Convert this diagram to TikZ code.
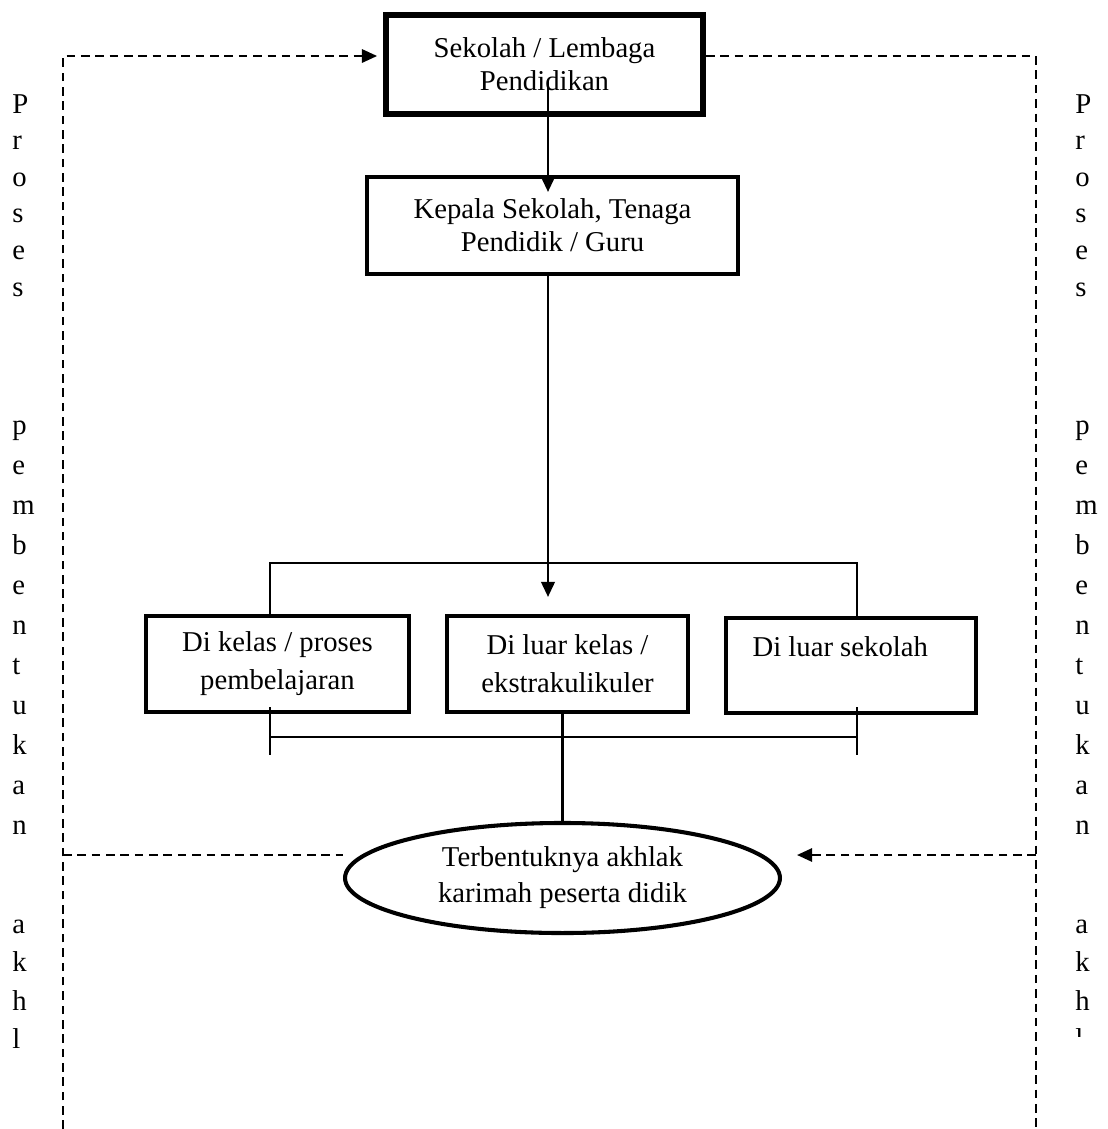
\documentclass[tikz,border=0pt]{standalone}
\usepackage{fontspec}
\setmainfont{Liberation Serif}
\usetikzlibrary{arrows.meta,shapes.geometric}

\begin{document}
\begin{tikzpicture}
[
x=0.418pt, y=-0.418pt,
box0/.style={rectangle, draw, line width=2.5pt, align=center, inner sep=0pt, font=\fontsize{12}{13.8}\selectfont},
box1/.style={rectangle, draw, line width=1.7pt, align=center, inner sep=0pt, font=\fontsize{12}{13.8}\selectfont},
box2/.style={rectangle, draw, line width=1.7pt, align=center, inner sep=0pt, minimum height=40pt, font=\fontsize{12}{15.9}\selectfont},
oval/.style={ellipse, draw, line width=1.7pt, align=center, inner sep=0pt, minimum width=181.8pt, minimum height=46pt, font=\fontsize{12}{15}\selectfont},
sidechar/.style={anchor=base west, inner sep=0pt, font=\fontsize{12}{14}\selectfont},
dashline/.style={line width=0.8pt, dash pattern=on 3.6pt off 2.4pt},
arrowline/.style={line width=1.1pt},
bracket/.style={line width=0.6pt},
headtip/.style={-{Triangle[length=6.3pt,width=5.6pt]}}
]
\useasboundingbox (0,0) rectangle (1107,1129);

\node[box0, minimum width=132.5pt, minimum height=41.4pt] (sekolah) at (544.5,64.5) {Sekolah / Lembaga\\Pendidikan};
\node[box1, minimum width=155pt, minimum height=40.5pt] (kepala) at (552.5,225.5) {Kepala Sekolah, Tenaga\\Pendidik / Guru};
\node[box2, minimum width=110pt] (kelas) at (277.5,664) {Di kelas / proses\\pembelajaran};
\node[box2, minimum width=100.7pt] (luar) at (567.5,664) {Di luar kelas /\\ekstrakulikuler};
\node[box2, minimum width=104.5pt] (sekolahluar) at (851,665.5) {Di luar sekolah\hspace*{9pt}\\\mbox{}};
\node[oval] (akhlak) at (562.5,878) {Terbentuknya akhlak\\karimah peserta didik};

\coordinate (lt) at (63,56);
\coordinate (lb) at (63,1129);
\coordinate (lm) at (63,855);
\coordinate (rt) at (1036,56);
\coordinate (rb) at (1036,1129);
\coordinate (rm) at (1036,855);
\coordinate (a1) at (548,80);
\coordinate (a1e) at (548,192);
\coordinate (a2e) at (548,597);
\coordinate (bl) at (270,563);
\coordinate (br) at (857,563);
\coordinate (cl) at (270,737);
\coordinate (cr) at (857,737);

\draw[arrowline,headtip] (a1) -- (a1e);
\draw[arrowline,headtip] (kepala.south -| a1) -- (a2e);
\draw[bracket] (kelas.north -| bl) -- (bl) -- (br) -- (sekolahluar.north -| br);
\draw[bracket] (cl) -- (cr);
\draw[bracket] (cl) ++(0,-30) -- ++(0,48);
\draw[bracket] (cr) ++(0,-30) -- ++(0,48);
\draw[arrowline] (akhlak.north |- luar.south) -- (akhlak.north);

% proses pembentukan akhlak
\draw[dashline,headtip,shorten >=2.5pt] (lb) -- (lt) -- (lt -| sekolah.west);
\draw[dashline] (lt -| sekolah.east) -- (rt) -- (rb);
\draw[dashline] (lm) -- (lm -| akhlak.west);
\draw[dashline,headtip,shorten >=6.3pt] (rm) -- (rm -| akhlak.east);

\foreach [count=\i] \c in {P,r,o,s,e,s} {
  \node[sidechar] (lp\i) at (12,{113+36.6*(\i-1)}) {\c};
  \node[sidechar] (rp\i) at (1075,{113+36.6*(\i-1)}) {\c};
}
\foreach [count=\i] \c in {p,e,m,b,e,n,t,u,k,a,n} {
  \node[sidechar] (lq\i) at (12,{434+40*(\i-1)}) {\c};
  \node[sidechar] (rq\i) at (1075,{434+40*(\i-1)}) {\c};
}
\foreach [count=\i] \c in {a,k,h,l} {
  \node[sidechar] (lk\i) at (12,{933+38.5*(\i-1)}) {\c};
}
\foreach [count=\i] \c in {a,k,h} {
  \node[sidechar] (rk\i) at (1075,{933+38.5*(\i-1)}) {\c};
}
\begin{scope}
\clip (1060,1010) rectangle (1107,1036);
\node[sidechar] (rk4) at (1075,1048.5) {l};
\end{scope}
\end{tikzpicture}
\end{document}
